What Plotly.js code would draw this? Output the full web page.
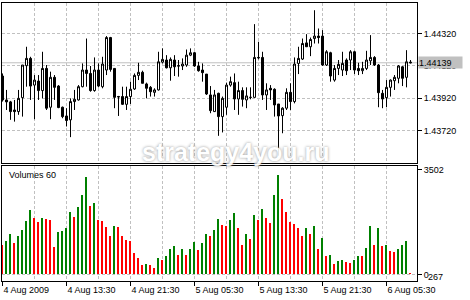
<!DOCTYPE html>
<html>
<head>
<meta charset="utf-8">
<script src="https://cdn.plot.ly/plotly-3.0.1.min.js"></script>
<style>html,body{margin:0;padding:0;background:#fff;}#chart{width:470px;height:300px;}</style>
</head>
<body>
<div id="chart"></div>
<script>
// M30 bars, 4 Aug 2009 05:30 onward (30-minute bars)
var startTime = '2009-08-04 05:30';
var barMinutes = 30;

var openP = [1.44057,1.43909,1.43897,1.43847,1.43837,1.43923,1.44121,1.44166,1.44001,1.44026,
1.43967,1.44104,1.43864,1.44049,1.43995,1.43864,1.43810,1.43786,1.43899,1.43909,
1.43991,1.44094,1.44073,1.43967,1.44094,1.43991,1.44094,1.44295,1.44104,1.43930,
1.43930,1.43882,1.43930,1.43977,1.44061,1.44080,1.44008,1.43987,1.43956,1.43971,
1.44143,1.44156,1.44108,1.44156,1.44121,1.44119,1.44125,1.44186,1.44201,1.44119,
1.44094,1.44069,1.43940,1.43837,1.43950,1.43806,1.43864,1.44001,1.44016,1.43915,
1.43967,1.43909,1.43925,1.43925,1.44172,1.44172,1.43940,1.43981,1.43975,1.43884,
1.43812,1.43858,1.43956,1.43899,1.44135,1.44162,1.44262,1.44238,1.44289,1.44304,
1.44304,1.44125,1.44201,1.44032,1.44104,1.44094,1.44156,1.44156,1.44207,1.44104,
1.44090,1.44104,1.44151,1.44172,1.44125,1.43950,1.43923,1.43987,1.44028,1.44043,
1.44114,1.44049,1.44143];

var highP = [1.44073,1.43971,1.43903,1.43909,1.43971,1.44125,1.44238,1.44176,1.44063,1.44063,
1.44207,1.44125,1.44084,1.44063,1.44001,1.43868,1.43858,1.43919,1.43971,1.44001,
1.44135,1.44289,1.44119,1.44172,1.44135,1.44176,1.44304,1.44299,1.44104,1.43934,
1.43991,1.43991,1.44022,1.44073,1.44139,1.44090,1.44016,1.43995,1.43981,1.44207,
1.44228,1.44186,1.44172,1.44186,1.44156,1.44166,1.44221,1.44228,1.44207,1.44145,
1.44135,1.44069,1.43995,1.43971,1.43954,1.43930,1.44016,1.44053,1.44073,1.44022,
1.43987,1.43987,1.43987,1.44378,1.44269,1.44207,1.44012,1.44001,1.43981,1.43884,
1.43864,1.43981,1.44012,1.44172,1.44238,1.44289,1.44316,1.44295,1.44464,1.44351,
1.44341,1.44217,1.44207,1.44125,1.44156,1.44207,1.44166,1.44217,1.44213,1.44139,
1.44145,1.44213,1.44310,1.44180,1.44131,1.43971,1.44032,1.44036,1.44063,1.44125,
1.44119,1.44217,1.44156];

var lowP = [1.43899,1.43847,1.43786,1.43775,1.43817,1.43806,1.43991,1.43909,1.43790,1.43909,
1.43919,1.43847,1.43790,1.43909,1.43858,1.43796,1.43745,1.43679,1.43847,1.43905,
1.43987,1.43991,1.43960,1.43960,1.43987,1.43981,1.44063,1.44084,1.43858,1.43810,
1.43878,1.43847,1.43884,1.43971,1.44032,1.44012,1.43919,1.43930,1.43930,1.43967,
1.44135,1.44104,1.44028,1.44057,1.44053,1.44094,1.44114,1.44180,1.44114,1.44084,
1.44022,1.43940,1.43827,1.43837,1.43687,1.43708,1.43817,1.43991,1.43847,1.43817,
1.43868,1.43858,1.43913,1.43923,1.44160,1.43909,1.43847,1.43909,1.43806,1.43564,
1.43703,1.43847,1.43847,1.43888,1.44069,1.44156,1.44238,1.44180,1.44258,1.44258,
1.44119,1.44119,1.44022,1.44022,1.44063,1.44057,1.44063,1.44094,1.44069,1.44063,
1.44069,1.44094,1.44125,1.44119,1.43864,1.43858,1.43864,1.43930,1.43971,1.44012,
1.43995,1.43987,1.44135];

var closeP = [1.43909,1.43897,1.43837,1.43837,1.43919,1.44125,1.44166,1.43995,1.44032,1.43967,
1.44104,1.43858,1.44049,1.43987,1.43862,1.43806,1.43782,1.43899,1.43913,1.43991,
1.44094,1.44073,1.43967,1.44094,1.43995,1.44131,1.44295,1.44098,1.43925,1.43928,
1.43882,1.43930,1.43975,1.44061,1.44080,1.44012,1.43981,1.43960,1.43971,1.44145,
1.44160,1.44108,1.44160,1.44114,1.44119,1.44131,1.44186,1.44201,1.44119,1.44090,
1.44078,1.43946,1.43843,1.43940,1.43806,1.43919,1.44001,1.44022,1.43915,1.43967,
1.43913,1.43934,1.43925,1.44172,1.44170,1.43940,1.43971,1.43971,1.43878,1.43810,
1.43858,1.43956,1.43899,1.44131,1.44166,1.44258,1.44238,1.44283,1.44304,1.44295,
1.44125,1.44207,1.44057,1.44104,1.44129,1.44135,1.44090,1.44207,1.44094,1.44090,
1.44104,1.44156,1.44172,1.44125,1.43954,1.43915,1.43987,1.44032,1.44049,1.44119,
1.44043,1.44145,1.44139];

var volumes = [967,1112,1334,1045,1267,1467,1779,2134,1868,1745,
1868,1834,1830,912,1412,1445,1534,2079,1912,2246,
2646,3246,2268,2379,1801,1795,1579,1267,1601,1595,
1267,1156,1112,711,556,300,334,322,233,534,
467,600,856,934,634,834,634,856,1067,823,
1045,1334,1267,1467,1834,1634,1628,1801,2046,1556,
989,1334,1190,1968,1801,2168,1868,1712,2635,3302,
2501,2079,1757,1690,1556,1267,1534,1334,1601,834,
1201,600,634,334,445,467,400,395,489,623,
600,867,1601,1000,1534,934,967,767,760,856,
967,1112,60];

var priceTicks = [1.43720, 1.43920, 1.44120, 1.44320];
var lastPrice = 1.44139;
var volumeTicks = [0, 3502];
var volumeLabel = 'Volumes 60';
var lastVolumeText = '267';
var dateTickVals = ['2009-08-04 05:30','2009-08-04 13:30','2009-08-04 21:30','2009-08-05 05:30','2009-08-05 13:30','2009-08-05 21:30','2009-08-06 05:30'];
var dateTickText = ['4 Aug 2009','4 Aug 13:30','4 Aug 21:30','5 Aug 05:30','5 Aug 13:30','5 Aug 21:30','6 Aug 05:30'];
var watermark = 'strategy4you.ru';

function pad(n){return (n<10?'0':'')+n;}
function fmt(ms){var d=new Date(ms);return d.getUTCFullYear()+'-'+pad(d.getUTCMonth()+1)+'-'+pad(d.getUTCDate())+' '+pad(d.getUTCHours())+':'+pad(d.getUTCMinutes())+':'+pad(d.getUTCSeconds())+'.'+String(d.getUTCMilliseconds()).padStart(3,'0');}
var t0 = Date.UTC(2009,7,4,5,30);
var step = barMinutes*60000;
var times = openP.map(function(_,i){return fmt(t0+i*step);});
var xStart = fmt(t0 - 0.125*step);
var xEnd = fmt(t0 - 0.125*step + 103.75*step);

var volColors = volumes.map(function(v,i){return (i>0 && v>volumes[i-1]) ? '#008000' : '#ff0000';});

var gridColor = '#c0c0c0';
var gridDash = '3px,2px';

var traces = [
  {type:'candlestick', x:times, open:openP, high:highP, low:lowP, close:closeP,
   xaxis:'x', yaxis:'y', whiskerwidth:0, hoverinfo:'skip',
   increasing:{line:{color:'#000000', width:1}, fillcolor:'#ffffff'},
   decreasing:{line:{color:'#000000', width:1}, fillcolor:'#000000'}},
  {type:'bar', x:times, y:volumes, xaxis:'x2', yaxis:'y2', width:step*0.5, offset:-step*0.375,
   marker:{color:volColors, line:{width:0}}, hoverinfo:'skip'}
];

var baseFont = {family:'Liberation Sans, Arial, sans-serif', size:9, color:'#000'};

var layout = {
  width:470, height:300,
  margin:{l:2, r:53, t:3, b:19, pad:0},
  paper_bgcolor:'#ffffff', plot_bgcolor:'#ffffff',
  font:baseFont, showlegend:false,
  boxgap:0.5, boxgroupgap:0,
  bargap:0,
  xaxis:{type:'date', domain:[0,1], anchor:'y', range:[xStart,xEnd],
    rangeslider:{visible:false}, showticklabels:false, ticks:'',
    tickmode:'linear', tick0:startTime, dtick:4*3600000,
    showgrid:true, gridcolor:gridColor, griddash:gridDash, gridwidth:1,
    showline:true, mirror:true, linecolor:'#000', linewidth:1, zeroline:false, fixedrange:true},
  xaxis2:{type:'date', domain:[0,1], anchor:'y2', matches:'x', range:[xStart,xEnd],
    rangeslider:{visible:false},
    tickmode:'array', tickvals:dateTickVals, ticktext:dateTickText,
    ticks:'outside', ticklen:4, tickcolor:'#000', tickwidth:1,
    ticklabelposition:'outside right', tickfont:baseFont,
    showgrid:true, gridcolor:gridColor, griddash:gridDash, gridwidth:1,
    minor:{tickmode:'linear', tick0:startTime, dtick:4*3600000, showgrid:true,
      gridcolor:gridColor, griddash:gridDash, gridwidth:1, ticks:''},
    showline:true, mirror:true, linecolor:'#000', linewidth:1, zeroline:false, fixedrange:true},
  yaxis:{domain:[0.42446,1], anchor:'x', side:'right', range:[1.43519,1.445087],
    tickmode:'array', tickvals:priceTicks, tickformat:'.5f',
    ticks:'outside', ticklen:4, tickcolor:'#000', tickfont:baseFont,
    showgrid:true, gridcolor:gridColor, griddash:gridDash, gridwidth:1,
    showline:true, mirror:true, linecolor:'#000', linewidth:1, zeroline:false, fixedrange:true},
  yaxis2:{domain:[0,0.41367], anchor:'x2', side:'right', range:[-217,3618],
    tickmode:'array', tickvals:volumeTicks, ticktext:volumeTicks.map(String),
    ticks:'outside', ticklen:4, tickcolor:'#000', tickfont:baseFont,
    showgrid:false, showline:true, mirror:true, linecolor:'#000', linewidth:1, zeroline:false, fixedrange:true},
  shapes:[
    {type:'line', xref:'x domain', yref:'y', x0:0, x1:1, y0:lastPrice, y1:lastPrice,
     line:{color:'#c0c0c0', width:1}, layer:'below'},
    {type:'line', xref:'x2 domain', yref:'y2', x0:0, x1:1, y0:0, y1:0,
     line:{color:gridColor, width:1, dash:gridDash}, layer:'below'}
  ],
  annotations:[
    {text:watermark, xref:'paper', yref:'paper', x:0.5639, y:0.4640, xanchor:'center', yanchor:'middle',
     showarrow:false, opacity:0.9,
     font:{family:'Liberation Sans, Arial, sans-serif', size:25, weight:'bold', color:'#ffffff', shadow:'0px 0px 3px #8c8c8c'}},
    {text:lastPrice.toFixed(5), xref:'paper', yref:'y', x:1.00241, y:lastPrice, xanchor:'left', yanchor:'middle',
     showarrow:false, bgcolor:'#c0c0c0', width:43, height:11, align:'left', borderpad:0,
     font:baseFont},
    {text:volumeLabel, xref:'paper', yref:'paper', x:0.01205, y:0.3813, xanchor:'left', yanchor:'middle',
     showarrow:false, font:baseFont},
    {text:lastVolumeText, xref:'paper', yref:'paper', x:1.0217, y:0.01439, xanchor:'left', yanchor:'middle',
     showarrow:false, font:baseFont}
  ]
};

Plotly.newPlot('chart', traces, layout, {staticPlot:true, displayModeBar:false});
</script>
</body>
</html>
